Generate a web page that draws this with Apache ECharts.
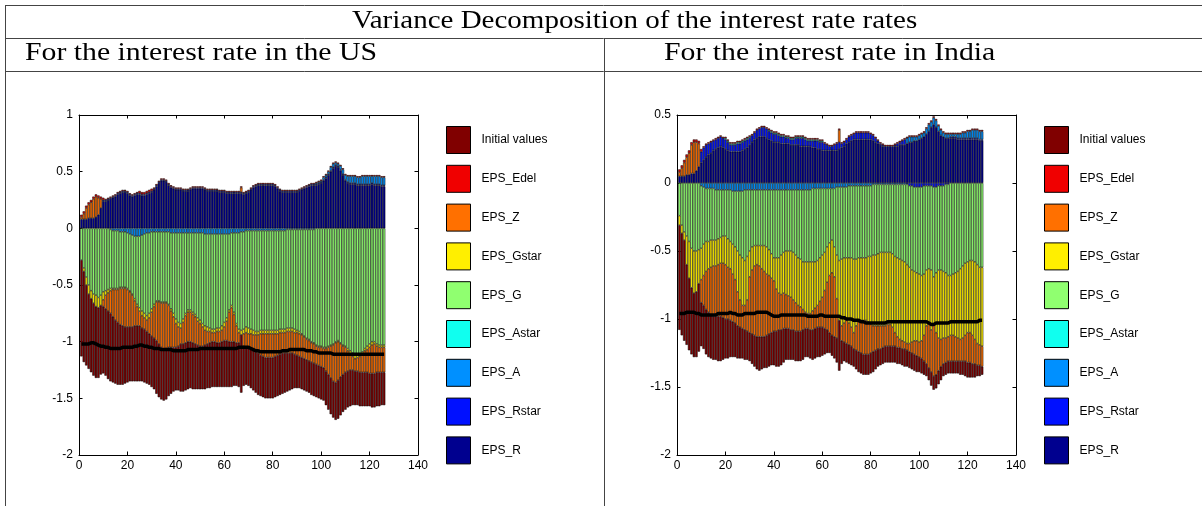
<!DOCTYPE html>
<html>
<head>
<meta charset="utf-8">
<title>Variance Decomposition</title>
<script src="https://cdn.jsdelivr.net/npm/echarts@6.0.0/dist/echarts.min.js"></script>
<style>
html, body { margin: 0; padding: 0; background: #fff; }
#chart { width: 1202px; height: 506px; }
</style>
</head>
<body>
<div id="chart"></div>
<script>
// legend order (top to bottom) and colours
const shockNames = ['Initial values', 'EPS_Edel', 'EPS_Z', 'EPS_Gstar', 'EPS_G', 'EPS_Astar', 'EPS_A', 'EPS_Rstar', 'EPS_R'];
const shockColors = ['#800000', '#f00000', '#ff7000', '#ffef00', '#90ff70', '#10ffef', '#0090ff', '#0010ff', '#00008f'];

// ---- interest rate in the US, contribution of each shock, periods 1..126 ----
const usR = [
0.08,0.08,0.08,0.09,0.09,0.09,0.10,0.12,0.18,0.24,
0.24,0.25,0.26,0.27,0.28,0.30,0.31,0.32,0.32,0.31,
0.29,0.28,0.29,0.30,0.30,0.29,0.29,0.30,0.31,0.32,
0.34,0.37,0.40,0.42,0.42,0.41,0.38,0.36,0.35,0.34,
0.34,0.34,0.33,0.33,0.33,0.34,0.35,0.35,0.35,0.35,
0.35,0.34,0.33,0.33,0.33,0.33,0.33,0.32,0.32,0.32,
0.31,0.31,0.31,0.31,0.31,0.31,0.31,0.30,0.31,0.32,
0.34,0.36,0.37,0.38,0.38,0.38,0.38,0.38,0.38,0.38,
0.37,0.35,0.33,0.32,0.32,0.32,0.32,0.32,0.32,0.32,
0.33,0.34,0.35,0.36,0.37,0.38,0.38,0.38,0.39,0.40,
0.42,0.44,0.47,0.50,0.53,0.55,0.54,0.51,0.47,0.42,
0.40,0.39,0.39,0.39,0.38,0.38,0.38,0.38,0.38,0.38,
0.39,0.38,0.38,0.38,0.37,0.37];
const usRstar = [
0,0,0,0,0,0,0,0,0,0.01,
0.01,0.01,0.01,0.01,0.01,0.01,0.01,0.01,0.01,0.01,
0.01,0.01,0.01,0.01,0.01,0.01,0.01,0.01,0.01,0.01,
0.01,0.01,0.01,0.01,0.01,0.01,0.01,0.01,0.01,0.01,
0.01,0.01,0.01,0.01,0.01,0.01,0.01,0.01,0.01,0.01,
0.01,0.01,0.01,0.01,0.01,0.01,0.01,0.01,0.01,0.01,
0.01,0.01,0.01,0.01,0.01,0.01,0.01,0.01,0.01,0.01,
0.01,0.01,0.01,0.01,0.01,0.01,0.01,0.01,0.01,0.01,
0.01,0.01,0.01,0.01,0.01,0.01,0.01,0.01,0.01,0.01,
0.01,0.01,0.01,0.01,0.01,0.01,0.01,0.01,0.01,0.01,
0.01,0.01,0.01,0.01,0.01,0.01,0.01,0.01,0.01,0.01,
0.01,0.01,0.01,0.01,0.01,0.01,0.01,0.01,0.01,0.01,
0.01,0.01,0.01,0.01,0.01,0.01];
const usA = [
0,0,0,0,0,0,0,0,0,0,
0,0,-0.01,-0.02,-0.02,-0.02,-0.03,-0.03,-0.03,-0.04,
-0.05,-0.06,-0.07,-0.07,-0.07,-0.06,-0.05,-0.04,-0.04,-0.03,
-0.03,-0.03,-0.03,-0.03,-0.03,-0.03,-0.03,-0.04,-0.04,-0.04,
-0.04,-0.04,-0.04,-0.04,-0.04,-0.04,-0.04,-0.04,-0.04,-0.04,
-0.04,-0.05,-0.05,-0.05,-0.05,-0.05,-0.05,-0.05,-0.05,-0.05,
-0.05,-0.05,-0.04,-0.04,-0.04,-0.04,-0.03,-0.03,-0.02,-0.02,
-0.02,-0.02,-0.02,-0.02,-0.02,-0.02,-0.02,-0.02,-0.02,-0.02,
-0.02,-0.02,-0.02,-0.02,-0.02,-0.01,-0.01,-0.01,-0.01,-0.01,
-0.01,-0.01,-0.01,-0.01,-0.01,-0.01,-0.01,0.01,0.01,0.01,
0.02,0.02,0.02,0.03,0.03,0.02,0.02,0.03,0.04,0.04,
0.05,0.06,0.06,0.06,0.06,0.06,0.07,0.07,0.07,0.07,
0.06,0.07,0.07,0.07,0.07,0.07];
const usAstar = [
0,0,0,0,0,0,0,0,0,0, 0,0,0,0,0,0,0,0,0,0, 0,0,0,0,0,0,0,0,0,0,
0,0,0,0,0,0,0,0,0,0, 0,0,0,0,0,0,0,0,0,0, 0,0,0,0,0,0,0,0,0,0,
0,0,0,0,0,0,0,0,0,0, 0,0,0,0,0,0,0,0,0,0, 0,0,0,0,0,0,0,0,0,0,
0,0,0,0,0,0,0,0,0,0, 0,0,0,0,0,0,0,0,0,0, 0,0,0,0,0,0,0,0,0,0,
0,0,0,0,0,0];
const usG = [
-0.28,-0.35,-0.43,-0.50,-0.55,-0.58,-0.59,-0.61,-0.59,-0.56,
-0.55,-0.54,-0.52,-0.51,-0.51,-0.51,-0.49,-0.49,-0.49,-0.49,
-0.50,-0.52,-0.55,-0.60,-0.63,-0.67,-0.70,-0.73,-0.71,-0.68,
-0.64,-0.61,-0.61,-0.62,-0.62,-0.62,-0.64,-0.67,-0.71,-0.76,
-0.79,-0.80,-0.76,-0.71,-0.68,-0.68,-0.70,-0.72,-0.75,-0.77,
-0.80,-0.81,-0.82,-0.83,-0.84,-0.84,-0.83,-0.83,-0.81,-0.78,
-0.74,-0.67,-0.64,-0.70,-0.80,-0.85,-0.87,-0.86,-0.85,-0.86,
-0.87,-0.88,-0.89,-0.89,-0.88,-0.88,-0.88,-0.88,-0.88,-0.88,
-0.88,-0.88,-0.87,-0.87,-0.87,-0.87,-0.87,-0.87,-0.88,-0.89,
-0.90,-0.92,-0.94,-0.96,-0.97,-0.99,-1.00,-1.03,-1.04,-1.04,
-1.05,-1.05,-1.04,-1.03,-1.02,-1.00,-0.99,-1.01,-1.03,-1.04,
-1.06,-1.08,-1.10,-1.12,-1.12,-1.11,-1.09,-1.06,-1.04,-1.02,
-1.00,-1.00,-1.02,-1.03,-1.03,-1.03];
const usGstar = [
0,-0.03,-0.07,-0.08,-0.07,-0.08,-0.10,-0.09,-0.09,-0.07,
-0.04,-0.03,-0.02,-0.01,-0.01,-0.01,-0.01,-0.01,-0.01,-0.01,
-0.01,-0.01,-0.02,-0.02,-0.03,-0.04,-0.04,-0.04,-0.04,-0.03,
-0.02,-0.01,-0.01,-0.01,-0.01,-0.01,-0.01,-0.02,-0.03,-0.04,
-0.04,-0.04,-0.03,-0.02,-0.02,-0.02,-0.02,-0.02,-0.03,-0.03,
-0.03,-0.04,-0.04,-0.03,-0.03,-0.03,-0.03,-0.03,-0.04,-0.04,
-0.03,-0.02,-0.02,-0.02,-0.02,-0.03,-0.04,-0.04,-0.05,-0.05,
-0.04,-0.04,-0.03,-0.03,-0.03,-0.03,-0.03,-0.03,-0.03,-0.03,
-0.03,-0.03,-0.03,-0.03,-0.03,-0.03,-0.03,-0.03,-0.03,-0.02,
-0.02,-0.01,-0.01,-0.01,-0.01,-0.01,-0.01,-0.01,-0.01,-0.01,
-0.01,-0.01,-0.01,-0.01,-0.01,-0.01,-0.01,-0.01,-0.01,-0.01,
-0.02,-0.03,-0.03,-0.03,-0.02,-0.02,-0.02,-0.02,-0.03,-0.03,
-0.03,-0.02,-0.02,-0.02,-0.02,-0.02];
const usZ = [
0.02,0.05,0.10,0.12,0.14,0.17,0.18,0.15,0.08,-0.06,
-0.12,-0.16,-0.20,-0.24,-0.27,-0.29,-0.32,-0.33,-0.34,-0.33,
-0.31,-0.28,-0.22,-0.17,-0.13,-0.11,-0.10,-0.10,-0.14,-0.21,
-0.28,-0.34,-0.37,-0.39,-0.41,-0.40,-0.37,-0.32,-0.27,-0.21,
-0.17,-0.14,-0.19,-0.24,-0.26,-0.26,-0.25,-0.24,-0.21,-0.20,
-0.17,-0.13,-0.11,-0.10,-0.08,-0.08,-0.10,-0.10,-0.10,-0.12,
-0.17,-0.26,-0.30,-0.24,-0.15,-0.09,0.04,-0.11,-0.13,-0.13,
-0.14,-0.14,-0.15,-0.16,-0.19,-0.20,-0.21,-0.21,-0.21,-0.21,
-0.20,-0.19,-0.19,-0.18,-0.18,-0.19,-0.19,-0.19,-0.19,-0.20,
-0.20,-0.20,-0.19,-0.18,-0.18,-0.17,-0.17,-0.16,-0.16,-0.17,
-0.17,-0.20,-0.24,-0.28,-0.32,-0.35,-0.34,-0.29,-0.25,-0.22,
-0.18,-0.14,-0.12,-0.11,-0.12,-0.14,-0.16,-0.19,-0.20,-0.23,
-0.25,-0.26,-0.23,-0.22,-0.22,-0.22];
const usEdel = [
0.02,0.02,0.02,0.02,0.02,0.02,0.02,0.02,0.02,0.02,
0.01,0.01,0.01,0.01,0.01,0.01,0.01,0.01,0.01,0.01,
0.01,0.01,0.01,0.01,0.02,0.02,0.02,0.02,0.02,0.02,
0.01,0.01,0.01,0.01,0.01,0.01,0.01,0.01,0.01,0.01,
0.01,0.01,0.01,0.01,0.01,0.01,0.01,0.01,0.01,0.01,
0.01,0.01,0.01,0.01,0.01,0.01,0.01,0.01,0.01,0.01,
0.01,0.01,0.01,0.01,0.01,0.01,0.01,0.01,0.01,0.01,
0.01,0.01,0.01,0.01,0.01,0.01,0.01,0.01,0.01,0.01,
0.01,0.01,0.01,0.01,0.01,0.01,0.01,0.01,0.01,0.01,
0.01,0.01,0.01,0.01,0.01,0.01,0.01,0.01,0.01,0.01,
0.01,0.01,0.01,0.01,0.01,0.01,0.01,0.01,0.01,0.01,
0.01,0.01,0.01,0.01,0.01,0.01,0.01,0.01,0.01,0.01,
0.01,0.01,0.01,0.01,0.01,0.01];
const usInit = [
-0.85,-0.80,-0.71,-0.66,-0.65,-0.64,-0.63,-0.62,-0.61,-0.59,
-0.59,-0.60,-0.60,-0.58,-0.56,-0.55,-0.53,-0.52,-0.50,-0.49,
-0.48,-0.48,-0.49,-0.49,-0.49,-0.47,-0.47,-0.46,-0.45,-0.45,
-0.45,-0.47,-0.47,-0.46,-0.45,-0.45,-0.43,-0.41,-0.39,-0.38,
-0.39,-0.42,-0.42,-0.42,-0.42,-0.41,-0.41,-0.40,-0.39,-0.38,
-0.38,-0.39,-0.39,-0.40,-0.40,-0.40,-0.39,-0.39,-0.40,-0.41,
-0.41,-0.40,-0.40,-0.39,-0.38,-0.39,-0.51,-0.35,-0.33,-0.33,
-0.34,-0.35,-0.36,-0.37,-0.36,-0.36,-0.36,-0.36,-0.36,-0.36,
-0.36,-0.36,-0.36,-0.36,-0.35,-0.34,-0.33,-0.32,-0.30,-0.29,
-0.28,-0.28,-0.28,-0.28,-0.28,-0.29,-0.29,-0.29,-0.29,-0.29,
-0.29,-0.30,-0.31,-0.32,-0.32,-0.33,-0.34,-0.34,-0.33,-0.33,
-0.32,-0.32,-0.31,-0.30,-0.30,-0.30,-0.30,-0.30,-0.30,-0.29,
-0.30,-0.30,-0.30,-0.30,-0.29,-0.29];
const usTotal = [
-1.02,-1.02,-1.02,-1.02,-1.01,-1.01,-1.02,-1.03,-1.04,-1.04,
-1.05,-1.05,-1.06,-1.06,-1.06,-1.06,-1.06,-1.05,-1.05,-1.05,
-1.05,-1.05,-1.04,-1.04,-1.03,-1.03,-1.04,-1.04,-1.05,-1.05,
-1.06,-1.06,-1.06,-1.07,-1.07,-1.07,-1.07,-1.07,-1.08,-1.08,
-1.08,-1.08,-1.08,-1.08,-1.07,-1.07,-1.07,-1.07,-1.07,-1.06,
-1.06,-1.06,-1.06,-1.06,-1.06,-1.06,-1.06,-1.06,-1.06,-1.06,
-1.06,-1.06,-1.06,-1.06,-1.06,-1.05,-1.05,-1.05,-1.05,-1.05,
-1.06,-1.07,-1.08,-1.08,-1.09,-1.09,-1.09,-1.09,-1.09,-1.09,
-1.09,-1.09,-1.09,-1.08,-1.08,-1.08,-1.07,-1.07,-1.07,-1.07,
-1.07,-1.07,-1.07,-1.08,-1.08,-1.08,-1.09,-1.09,-1.10,-1.10,
-1.10,-1.10,-1.10,-1.10,-1.11,-1.11,-1.11,-1.11,-1.11,-1.11,
-1.11,-1.11,-1.11,-1.11,-1.11,-1.11,-1.11,-1.11,-1.11,-1.11,
-1.11,-1.11,-1.11,-1.11,-1.11,-1.11];

// ---- interest rate in India ----
const inR = [
0.05,0.05,0.05,0.06,0.06,0.07,0.07,0.09,0.12,0.15,
0.17,0.19,0.21,0.22,0.24,0.25,0.26,0.27,0.26,0.25,
0.24,0.23,0.23,0.23,0.23,0.23,0.24,0.25,0.26,0.28,
0.30,0.32,0.33,0.34,0.34,0.34,0.33,0.32,0.31,0.30,
0.30,0.30,0.29,0.29,0.29,0.29,0.28,0.28,0.28,0.28,
0.27,0.27,0.27,0.27,0.27,0.26,0.26,0.25,0.25,0.24,
0.24,0.24,0.24,0.24,0.24,0.24,0.25,0.26,0.27,0.29,
0.30,0.31,0.32,0.32,0.32,0.32,0.32,0.32,0.32,0.32,
0.31,0.30,0.29,0.28,0.27,0.27,0.27,0.27,0.27,0.27,
0.27,0.28,0.28,0.28,0.29,0.30,0.30,0.31,0.31,0.32,
0.33,0.34,0.36,0.38,0.41,0.43,0.41,0.38,0.35,0.34,
0.33,0.33,0.33,0.33,0.33,0.32,0.32,0.32,0.32,0.32,
0.32,0.32,0.32,0.32,0.31,0.31];
const inRstar = [
0,0,0,0,0,0,0,0,0,0.08,
0.09,0.09,0.08,0.08,0.07,0.07,0.07,0.07,0.07,0.07,
0.06,0.05,0.05,0.05,0.06,0.06,0.06,0.06,0.06,0.05,
0.05,0.05,0.06,0.06,0.07,0.07,0.07,0.06,0.06,0.06,
0.06,0.05,0.05,0.05,0.04,0.04,0.04,0.04,0.05,0.05,
0.06,0.06,0.05,0.04,0.04,0.05,0.05,0.06,0.05,0.06,
0.05,0.04,0.03,0.03,0.04,0.05,0.05,0.03,0.03,0.03,
0.04,0.04,0.04,0.05,0.05,0.05,0.05,0.05,0.05,0.04,
0.04,0.03,0.02,0.01,0.01,0,0,0,0,0.01,
0.02,0.02,0.03,0.04,-0.01,-0.02,-0.02,-0.03,-0.03,-0.03,
-0.03,-0.02,-0.02,-0.02,-0.02,-0.03,-0.03,-0.02,-0.02,-0.02,
-0.01,-0.01,0.01,0.01,0.01,0.01,0.01,0.01,0.01,0.01,
0.01,0.01,0.01,0.01,0.01,0.01];
const inA = [
0,0,0,0,0,0,0,0,0,-0.02,
-0.03,-0.04,-0.04,-0.04,-0.04,-0.05,-0.05,-0.05,-0.05,-0.05,
-0.05,-0.05,-0.06,-0.06,-0.06,-0.06,-0.06,-0.05,-0.05,-0.05,
-0.05,-0.05,-0.05,-0.05,-0.05,-0.05,-0.05,-0.05,-0.05,-0.05,
-0.05,-0.05,-0.05,-0.05,-0.05,-0.05,-0.05,-0.05,-0.05,-0.05,
-0.05,-0.05,-0.05,-0.05,-0.05,-0.04,-0.04,-0.04,-0.04,-0.04,
-0.04,-0.04,-0.04,-0.04,-0.04,-0.03,-0.03,-0.03,-0.03,-0.03,
-0.02,-0.02,-0.02,-0.02,-0.02,-0.02,-0.02,-0.02,-0.02,-0.02,
-0.01,-0.01,-0.01,-0.01,-0.01,-0.01,-0.01,-0.01,-0.01,-0.01,
-0.01,-0.01,-0.01,-0.01,0.04,0.04,0.04,0.03,0.03,0.03,
0.03,0.03,0.04,0.05,0.04,0.05,0.05,0.04,0.04,0.03,
0.03,0.03,0.02,0.02,0.02,0.03,0.03,0.04,0.04,0.05,
0.05,0.06,0.06,0.06,0.06,0.06];
const inAstar = [
0,0,0,0,0,0,0,0,0,0,
0,0,0,0,0,0,0,0,0,0.01,
0.01,0.01,0.01,0.01,0.01,0.01,0.01,0.01,0.01,0.01,
0,0,0,0,0,0,0,0.01,0.01,0.01,
0.01,0.01,0.01,0.01,0.01,0.01,0.01,0.01,0.01,0.01,
0.01,0.01,0.01,0.01,0.01,0.01,0.01,0.01,0.01,0.01,
0,0,0,0,0,0,0,0,0,0, 0,0,0,0,0,0,0,0,0,0,
0,0,0,0,0,0,0,0,0,0, 0,0,0,0,0,0,0,0,0,0,
0,0,0,0,0,0,0,0,0,0, 0,0,0,0,0,0,0,0,0,0,
0,0,0,0,0,0];
const inG = [
-0.24,-0.31,-0.36,-0.39,-0.43,-0.48,-0.50,-0.50,-0.49,-0.46,
-0.42,-0.39,-0.39,-0.38,-0.38,-0.37,-0.36,-0.35,-0.34,-0.34,
-0.36,-0.38,-0.39,-0.41,-0.44,-0.47,-0.49,-0.52,-0.49,-0.45,
-0.42,-0.41,-0.41,-0.41,-0.41,-0.41,-0.42,-0.44,-0.47,-0.50,
-0.50,-0.50,-0.48,-0.46,-0.45,-0.45,-0.45,-0.46,-0.48,-0.50,
-0.51,-0.53,-0.53,-0.53,-0.53,-0.54,-0.54,-0.53,-0.51,-0.49,
-0.47,-0.43,-0.40,-0.38,-0.43,-0.50,-0.54,-0.53,-0.52,-0.52,
-0.53,-0.53,-0.54,-0.54,-0.53,-0.53,-0.53,-0.53,-0.52,-0.52,
-0.52,-0.52,-0.51,-0.50,-0.50,-0.50,-0.50,-0.50,-0.51,-0.53,
-0.54,-0.55,-0.56,-0.57,-0.59,-0.60,-0.62,-0.62,-0.63,-0.64,
-0.65,-0.65,-0.62,-0.61,-0.62,-0.66,-0.63,-0.62,-0.62,-0.63,
-0.65,-0.67,-0.68,-0.67,-0.66,-0.65,-0.63,-0.61,-0.59,-0.58,
-0.57,-0.57,-0.58,-0.60,-0.62,-0.62];
const inGstar = [
-0.07,-0.06,-0.06,-0.21,-0.27,-0.29,-0.31,-0.30,-0.25,-0.23,
-0.23,-0.22,-0.20,-0.20,-0.19,-0.19,-0.19,-0.19,-0.20,-0.21,
-0.21,-0.20,-0.22,-0.24,-0.30,-0.33,-0.35,-0.33,-0.32,-0.19,
-0.17,-0.15,-0.14,-0.15,-0.17,-0.19,-0.20,-0.19,-0.18,-0.17,
-0.23,-0.26,-0.29,-0.30,-0.32,-0.33,-0.34,-0.35,-0.35,-0.35,
-0.35,-0.35,-0.37,-0.38,-0.38,-0.36,-0.34,-0.33,-0.32,-0.31,
-0.28,-0.26,-0.24,-0.24,-0.22,-0.32,-0.44,-0.49,-0.48,-0.46,
-0.48,-0.51,-0.54,-0.49,-0.47,-0.46,-0.46,-0.46,-0.48,-0.50,
-0.52,-0.52,-0.53,-0.54,-0.54,-0.54,-0.53,-0.53,-0.54,-0.56,
-0.58,-0.59,-0.59,-0.59,-0.58,-0.56,-0.53,-0.51,-0.50,-0.50,
-0.48,-0.45,-0.41,-0.40,-0.44,-0.35,-0.44,-0.50,-0.51,-0.49,
-0.48,-0.45,-0.44,-0.45,-0.47,-0.49,-0.52,-0.53,-0.53,-0.52,
-0.53,-0.55,-0.57,-0.58,-0.57,-0.58];
const inZ = [
0.03,0.06,0.10,0.13,0.16,0.21,0.23,0.21,0.17,-0.17,
-0.22,-0.28,-0.32,-0.35,-0.37,-0.37,-0.38,-0.39,-0.40,-0.40,
-0.38,-0.38,-0.35,-0.32,-0.25,-0.20,-0.17,-0.18,-0.23,-0.41,
-0.47,-0.51,-0.53,-0.52,-0.50,-0.48,-0.45,-0.43,-0.40,-0.37,
-0.31,-0.27,-0.26,-0.26,-0.25,-0.24,-0.24,-0.22,-0.21,-0.19,
-0.18,-0.15,-0.12,-0.11,-0.12,-0.14,-0.15,-0.16,-0.19,-0.22,
-0.28,-0.35,-0.42,-0.46,-0.44,-0.29,0.09,-0.11,-0.14,-0.17,
-0.16,-0.14,-0.12,-0.18,-0.22,-0.24,-0.25,-0.25,-0.24,-0.21,
-0.19,-0.18,-0.17,-0.17,-0.16,-0.15,-0.16,-0.16,-0.14,-0.10,
-0.08,-0.06,-0.06,-0.05,-0.05,-0.06,-0.08,-0.10,-0.11,-0.11,
-0.13,-0.19,-0.28,-0.33,-0.31,-0.38,-0.31,-0.24,-0.20,-0.19,
-0.18,-0.18,-0.19,-0.19,-0.18,-0.17,-0.16,-0.17,-0.19,-0.22,
-0.22,-0.21,-0.18,-0.16,-0.15,-0.15];
const inEdel = [
0.02,0.02,0.02,0.02,0.02,0.02,0.02,0.02,0.02,0.02,
0.01,0.01,0.01,0.01,0.01,0.01,0.01,0.01,0.01,0.01,
0.01,0.01,0.01,0.01,0.01,0.01,0.01,0.01,0.01,0.01,
0.01,0.01,0.01,0.01,0.01,0.01,0.01,0.01,0.01,0.01,
0.01,0.01,0.01,0.01,0.01,0.01,0.01,0.01,0.01,0.01,
0.01,0.01,0.01,0.01,0.01,0.01,0.01,0.01,0.01,0.01,
0.01,0.01,0.01,0.01,0.01,0.01,0.01,0.01,0.01,0.01,
0.01,0.01,0.01,0.01,0.01,0.01,0.01,0.01,0.01,0.01,
0.01,0.01,0.01,0.01,0.01,0.01,0.01,0.01,0.01,0.01,
0.01,0.01,0.01,0.01,0.01,0.01,0.01,0.01,0.01,0.01,
0.01,0.01,0.01,0.01,0.01,0.01,0.01,0.01,0.01,0.01,
0.01,0.01,0.01,0.01,0.01,0.01,0.01,0.01,0.01,0.01,
0.01,0.01,0.01,0.01,0.01,0.01];
const inInit = [
-0.77,-0.75,-0.74,-0.59,-0.53,-0.49,-0.47,-0.48,-0.50,-0.32,
-0.32,-0.33,-0.33,-0.32,-0.32,-0.32,-0.33,-0.33,-0.31,-0.29,
-0.29,-0.27,-0.26,-0.25,-0.24,-0.23,-0.22,-0.22,-0.21,-0.21,
-0.22,-0.23,-0.24,-0.25,-0.24,-0.23,-0.24,-0.24,-0.24,-0.25,
-0.26,-0.27,-0.26,-0.25,-0.23,-0.23,-0.22,-0.22,-0.22,-0.22,
-0.22,-0.22,-0.21,-0.21,-0.21,-0.22,-0.22,-0.22,-0.22,-0.21,
-0.19,-0.17,-0.15,-0.15,-0.16,-0.18,-0.37,-0.17,-0.14,-0.14,
-0.14,-0.14,-0.13,-0.14,-0.15,-0.15,-0.15,-0.15,-0.15,-0.15,
-0.15,-0.14,-0.13,-0.12,-0.12,-0.12,-0.12,-0.12,-0.12,-0.12,
-0.12,-0.12,-0.12,-0.13,-0.12,-0.12,-0.12,-0.12,-0.12,-0.11,
-0.11,-0.10,-0.09,-0.09,-0.10,-0.10,-0.10,-0.10,-0.10,-0.09,
-0.09,-0.09,-0.09,-0.09,-0.09,-0.09,-0.10,-0.10,-0.11,-0.11,
-0.11,-0.10,-0.10,-0.08,-0.08,-0.06];
const inTotal = [
-0.96,-0.96,-0.96,-0.95,-0.95,-0.95,-0.95,-0.96,-0.96,-0.97,
-0.97,-0.97,-0.97,-0.97,-0.97,-0.97,-0.96,-0.96,-0.96,-0.96,
-0.96,-0.95,-0.96,-0.96,-0.97,-0.97,-0.97,-0.96,-0.96,-0.96,
-0.96,-0.96,-0.95,-0.95,-0.95,-0.95,-0.95,-0.96,-0.97,-0.98,
-0.98,-0.98,-0.97,-0.97,-0.97,-0.97,-0.97,-0.97,-0.97,-0.97,
-0.97,-0.97,-0.97,-0.98,-0.98,-0.98,-0.98,-0.98,-0.97,-0.97,
-0.98,-0.98,-0.98,-0.98,-0.98,-0.98,-0.98,-0.99,-0.99,-1.00,
-1.00,-1.00,-1.01,-1.01,-1.01,-1.02,-1.02,-1.03,-1.03,-1.03,
-1.03,-1.03,-1.03,-1.03,-1.03,-1.03,-1.02,-1.02,-1.02,-1.02,
-1.02,-1.02,-1.02,-1.02,-1.02,-1.02,-1.02,-1.02,-1.02,-1.02,
-1.02,-1.02,-1.02,-1.03,-1.04,-1.04,-1.03,-1.03,-1.03,-1.03,
-1.03,-1.03,-1.02,-1.02,-1.02,-1.02,-1.02,-1.02,-1.02,-1.02,
-1.02,-1.02,-1.02,-1.02,-1.01,-1.01];

// periods: the horizontal axis runs 0..140, bars sit at periods 1..126
const axisPeriods = [];
for (let p = 0; p <= 140; p++) axisPeriods.push(p);

// stacking order from zero outwards (reverse of legend order)
const usParts = { 'EPS_R': usR, 'EPS_Rstar': usRstar, 'EPS_A': usA, 'EPS_Astar': usAstar, 'EPS_G': usG,
  'EPS_Gstar': usGstar, 'EPS_Z': usZ, 'EPS_Edel': usEdel, 'Initial values': usInit };
const inParts = { 'EPS_R': inR, 'EPS_Rstar': inRstar, 'EPS_A': inA, 'EPS_Astar': inAstar, 'EPS_G': inG,
  'EPS_Gstar': inGstar, 'EPS_Z': inZ, 'EPS_Edel': inEdel, 'Initial values': inInit };

// value for period p, or an empty slot
function atPeriod(values, p) {
  const v = values[p - 1];
  return (v === undefined || v === 0) ? null : v;
}

function barsFor(parts, xIdx, yIdx, stack) {
  const order = shockNames.slice().reverse();
  return order.map(name => ({
    type: 'bar', name: name, stack: stack,
    xAxisIndex: xIdx, yAxisIndex: yIdx,
    barWidth: 2.42, silent: true,
    data: axisPeriods.map(p => atPeriod(parts[name], p)),
    itemStyle: { color: shockColors[shockNames.indexOf(name)], borderColor: '#000', borderWidth: 0.5 }
  }));
}
function totalLine(values, xIdx, yIdx) {
  return {
    type: 'line', name: 'total', xAxisIndex: xIdx, yAxisIndex: yIdx, symbol: 'none', silent: true, z: 5,
    data: values.map((v, i) => [i + 1, v]),
    lineStyle: { color: '#000', width: 3.5 }
  };
}

const labelFont = { color: '#000', fontFamily: 'Liberation Sans', fontSize: 12 };
const tickStyle = { show: true, inside: true, length: 3.5, lineStyle: { color: '#000' } };
const lineStyle = { show: true, onZero: false, lineStyle: { color: '#000', width: 1 } };

function xAxesFor(grid) {
  const base = { type: 'value', gridIndex: grid, min: 0, max: 140, interval: 20, splitLine: { show: false },
    axisLine: lineStyle, axisTick: tickStyle };
  return [
    Object.assign({}, base, { position: 'bottom', axisLabel: Object.assign({ margin: 5 }, labelFont) }),
    Object.assign({}, base, { position: 'top', axisLabel: { show: false } })
  ];
}
// hidden category axis carrying the bars, aligned with 0..140
function barAxisFor(grid) {
  return { type: 'category', gridIndex: grid, data: axisPeriods.map(String), boundaryGap: false, show: false };
}
function yAxesFor(grid, max) {
  const base = { type: 'value', gridIndex: grid, min: -2, max: max, interval: 0.5, splitLine: { show: false },
    axisLine: lineStyle, axisTick: tickStyle };
  return [
    Object.assign({}, base, { position: 'left', axisLabel: Object.assign({ margin: 6 }, labelFont) }),
    Object.assign({}, base, { position: 'right', axisLabel: { show: false } })
  ];
}
function legendAt(left) {
  return {
    left: left, top: 126, orient: 'vertical', padding: 0, icon: 'rect',
    itemWidth: 24, itemHeight: 27, itemGap: 10.8, selectedMode: false,
    data: shockNames,
    itemStyle: { borderColor: '#000', borderWidth: 1 },
    textStyle: { color: '#000', fontFamily: 'Liberation Sans', fontSize: 12, padding: [0, 0, 0, 6] }
  };
}

const rule = { stroke: '#444', lineWidth: 1 };
const serif = '25px "Liberation Serif"';

const option = {
  animation: false,
  backgroundColor: '#fff',
  graphic: [
    { type: 'line', shape: { x1: 5, y1: 5.5, x2: 1202, y2: 5.5 }, style: rule, silent: true },
    { type: 'line', shape: { x1: 5, y1: 38.5, x2: 1202, y2: 38.5 }, style: rule, silent: true },
    { type: 'line', shape: { x1: 5, y1: 71.5, x2: 1202, y2: 71.5 }, style: rule, silent: true },
    { type: 'line', shape: { x1: 5.5, y1: 5, x2: 5.5, y2: 506 }, style: rule, silent: true },
    { type: 'line', shape: { x1: 604.5, y1: 38, x2: 604.5, y2: 506 }, style: rule, silent: true },
    { type: 'text', x: 352, y: 21, scaleX: 1.16, silent: true,
      style: { text: 'Variance Decomposition of the interest rate rates', font: serif, fill: '#000', verticalAlign: 'middle' } },
    { type: 'text', x: 25, y: 53, scaleX: 1.19, silent: true,
      style: { text: 'For the interest rate in the US', font: serif, fill: '#000', verticalAlign: 'middle' } },
    { type: 'text', x: 664, y: 53, scaleX: 1.19, silent: true,
      style: { text: 'For the interest rate in India', font: serif, fill: '#000', verticalAlign: 'middle' } }
  ],
  legend: [legendAt(446), legendAt(1044)],
  grid: [
    { left: 79, top: 115, width: 339, height: 340 },
    { left: 677, top: 115, width: 339, height: 340 }
  ],
  // x: 0,1 US value axes; 2,3 India value axes; 4 US bar axis; 5 India bar axis
  xAxis: xAxesFor(0).concat(xAxesFor(1)).concat([barAxisFor(0), barAxisFor(1)]),
  // y: 0,1 US; 2,3 India
  yAxis: yAxesFor(0, 1).concat(yAxesFor(1, 0.5)),
  series: []
};
option.series = barsFor(usParts, 4, 0, 'us').concat([totalLine(usTotal, 0, 0)])
  .concat(barsFor(inParts, 5, 2, 'in')).concat([totalLine(inTotal, 2, 2)]);

const chart = echarts.init(document.getElementById('chart'), null, { renderer: 'canvas' });
chart.setOption(option);
</script>
</body>
</html>
